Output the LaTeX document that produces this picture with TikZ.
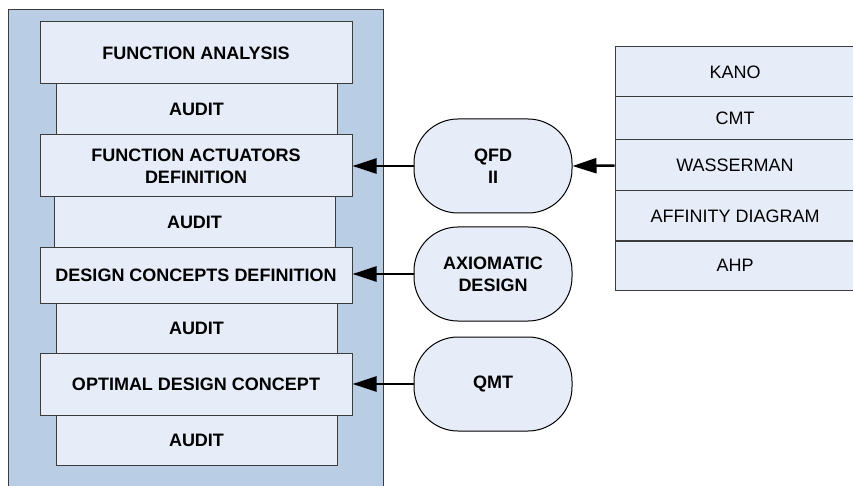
\documentclass[tikz,border=0pt]{standalone}
\usepackage{fontspec}
\setmainfont{Liberation Sans}
\usetikzlibrary{arrows.meta}
\definecolor{panelblue}{RGB}{185,205,228}
\definecolor{boxfill}{RGB}{230,237,248}
\definecolor{edgegray}{RGB}{60,60,60}
\tikzset{
  stage/.style={draw=edgegray, line width=1pt, fill=boxfill, inner sep=0pt,
    align=center, font=\bfseries\fontsize{18}{22}\selectfont},
  method/.style={draw=black, line width=1pt, fill=boxfill, inner sep=0pt,
    rounded corners=44pt, align=center, font=\bfseries\fontsize{18}{22}\selectfont,
    minimum width=158pt, minimum height=94pt},
  tool/.style={draw=edgegray, line width=1pt, fill=boxfill, inner sep=0pt,
    font=\fontsize{18}{22}\selectfont, minimum width=240pt},
  feed/.style={draw=black, line width=2.5pt,
    -{Triangle[length=24pt,width=15pt]}},
}
\begin{document}
\begin{tikzpicture}[x=1pt,y=-1pt]
  \clip (0,0) rectangle (853,486);
  \fill[white] (0,0) rectangle (853,486);
  % design process panel
  \fill[panelblue] (8,10) rectangle (383,490);
  \draw[edgegray, line width=1pt] (8,490) -- (8,10) -- (383,10) -- (383,490);

  % audits (drawn first, stages overlap them)
  \node[stage, minimum width=281pt, minimum height=51pt] (au1) at (196.5,109.5) {AUDIT};
  \node[stage, minimum width=281pt, minimum height=50pt] (au2) at (194.5,222) {AUDIT};
  \node[stage, minimum width=281pt, minimum height=50pt] (au3) at (196.5,328) {AUDIT};
  \node[stage, minimum width=281pt, minimum height=50pt] (au4) at (196.5,440) {AUDIT};

  % stages
  \node[stage, minimum width=312pt, minimum height=62pt] (fa) at (196,53) {FUNCTION ANALYSIS};
  \node[stage, minimum width=312pt, minimum height=62pt] (fad) at (196,166) {FUNCTION ACTUATORS\\DEFINITION};
  \node[stage, minimum width=312pt, minimum height=56pt] (dcd) at (196,275) {DESIGN CONCEPTS DEFINITION};
  \node[stage, minimum width=312pt, minimum height=62pt] (odc) at (196,384) {OPTIMAL DESIGN CONCEPT};

  % methods
  \node[method] (qfd) at (493,166) {QFD\\II};
  \node[method] (ad) at (493,274) {AXIOMATIC\\DESIGN};
  \node[method] (qmt) at (493,384) {QMT};

  % tools table
  \node[tool, minimum height=50pt] (kano) at (735,72) {KANO};
  \node[tool, minimum height=43pt] (cmt) at (735,118.5) {CMT};
  \node[tool, minimum height=51pt] (wass) at (735,165.5) {WASSERMAN};
  \node[tool, minimum height=50pt] (aff) at (735,216) {AFFINITY DIAGRAM};
  \node[tool, minimum height=49pt] (ahp) at (735,265.5) {AHP};

  % connectors
  \draw[feed] (qfd.west) -- (fad.east);
  \draw[feed] (ad.west) -- (dcd.east |- ad.west);
  \draw[feed] (qmt.west) -- (odc.east);
  \draw[feed] (wass.west) -- (qfd.east);
\end{tikzpicture}
\end{document}
